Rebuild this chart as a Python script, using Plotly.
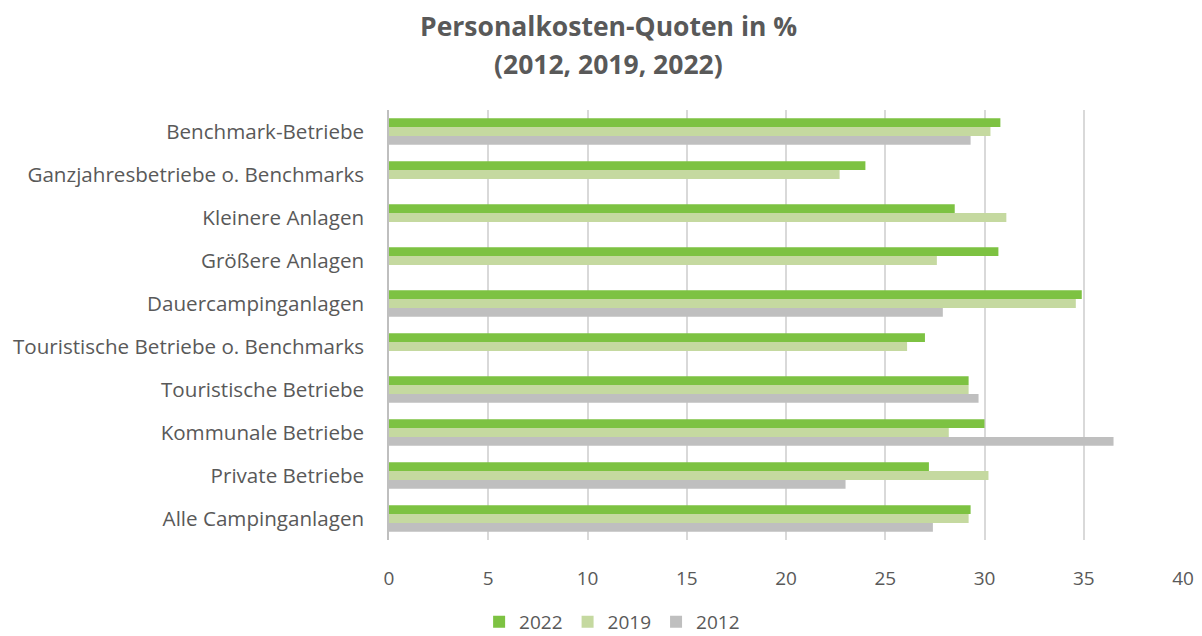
import plotly.graph_objects as go

categories = [
    "Benchmark-Betriebe",
    "Ganzjahresbetriebe o. Benchmarks",
    "Kleinere Anlagen",
    "Größere Anlagen",
    "Dauercampinganlagen",
    "Touristische Betriebe o. Benchmarks",
    "Touristische Betriebe",
    "Kommunale Betriebe",
    "Private Betriebe",
    "Alle Campinganlagen",
]
values_2022 = [30.8, 24.0, 28.5, 30.7, 34.9, 27.0, 29.2, 30.0, 27.2, 29.3]
values_2019 = [30.3, 22.7, 31.1, 27.6, 34.6, 26.1, 29.2, 28.2, 30.2, 29.2]
values_2012 = [29.3, None, None, None, 27.9, None, 29.7, 36.5, 23.0, 27.4]
tick_vals = [0, 5, 10, 15, 20, 25, 30, 35, 40]
title_lines = ["Personalkosten-Quoten in %", "(2012, 2019, 2022)"]

font_family = "Open Sans, Liberation Sans, sans-serif"
text_color = "#595959"

fig = go.Figure()
for name, vals, color in [
    ("2022", values_2022, "#7DC242"),
    ("2019", values_2019, "#C5D9A0"),
    ("2012", values_2012, "#BFBFBF"),
]:
    fig.add_trace(go.Bar(
        y=categories, x=vals, name=name, orientation="h",
        marker=dict(color=color, line=dict(width=0)),
    ))

for line, ypos in zip(title_lines, [1.1953, 1.107]):
    fig.add_annotation(
        text="<b>" + line + "</b>", xref="paper", yref="paper",
        x=0.277, y=ypos, xanchor="center", yanchor="middle",
        showarrow=False,
        font=dict(family=font_family, size=26.5, color=text_color),
    )

fig.update_layout(
    width=1194, height=628,
    paper_bgcolor="white", plot_bgcolor="white",
    barmode="group", bargap=0.38, bargroupgap=0,
    margin=dict(l=381, r=19, t=102, b=96, autoexpand=False),
    font=dict(family=font_family, size=19, color=text_color),
    xaxis=dict(
        range=[0, 40], tickvals=tick_vals, showgrid=True,
        gridcolor="#D9D9D9", gridwidth=1.5, zeroline=False,
        showline=False, ticks="", ticklabelstandoff=25,
        tickfont=dict(size=19, color=text_color), automargin=False,
    ),
    yaxis=dict(
        autorange="reversed", showgrid=False, zeroline=False,
        showline=True, linecolor="#BFBFBF", linewidth=1.5,
        ticks="", ticklabelstandoff=19, automargin=False,
        tickfont=dict(size=20.6, color=text_color),
    ),
    legend=dict(
        orientation="h", x=0.281, xanchor="center", y=-0.146, yanchor="top",
        font=dict(size=19, color=text_color), itemwidth=30,
        traceorder="normal",
    ),
)

fig.write_html("out.html")
